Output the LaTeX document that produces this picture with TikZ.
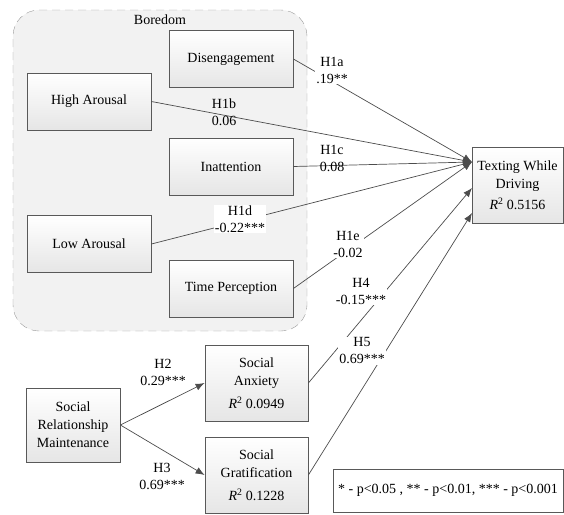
\documentclass[tikz,border=0pt]{standalone}
\usepackage{fontspec}
\setmainfont{Liberation Serif}
\usepackage{tikz}
\usetikzlibrary{arrows.meta,calc,positioning}

\begin{document}
\begin{tikzpicture}[
    x=1pt, y=-1pt,
    font=\fontsize{14}{18}\selectfont,
    construct/.style={draw=black!65, line width=0.8pt, top color=white,
                      bottom color=black!10, minimum width=124pt,
                      minimum height=57pt, align=center, inner sep=2pt},
    latent/.style={construct, minimum width=103pt, minimum height=76pt},
    group/.style={draw=black!40, dashed, dash pattern=on 8pt off 5pt,
                  fill=black!5, rounded corners=26pt},
    coef/.style={align=center, inner sep=1pt, font=\fontsize{14}{17}\selectfont},
    coefbg/.style={coef, fill=white},
    arrow/.style={-{Latex[length=9pt,width=7pt]}, line width=0.7pt, black!70}
]
\useasboundingbox (0,0) rectangle (564,514);
\node[group, minimum width=294pt, minimum height=321pt] (bored) at (160,170.5) {};
\node (boredlbl) at (160,20) {Boredom};

\node[construct] (diseng) at (231,59) {Disengagement};
\node[construct] (high) at (89,101.5) {High Arousal};
\node[construct] (inatt) at (231,166.5) {Inattention};
\node[construct] (low) at (89,244) {Low Arousal};
\node[construct] (timep) at (231,288.5) {Time Perception};
\node[latent, minimum width=91pt] (twd) at (517.5,185)
    {Texting While\\Driving\\[3pt]\textit{R}\textsuperscript{2} 0.5156};
\node[latent] (anx) at (256.5,383)
    {Social\\Anxiety\\[5pt]\textit{R}\textsuperscript{2} 0.0949};
\node[latent] (grat) at (256.5,475)
    {Social\\Gratification\\[5pt]\textit{R}\textsuperscript{2} 0.1228};
\node[latent, minimum width=94pt, minimum height=74pt] (srm) at (73,425)
    {Social\\Relationship\\Maintenance};
\node[draw=black!65, line width=0.8pt, minimum width=230pt, minimum height=43pt]
    (key) at (448,490.5) {* - p<0.05 , ** - p<0.01, *** - p<0.001};

\coordinate (tip) at (472,162);
\coordinate (tip4) at (472,188);
\coordinate (tip5) at (472,213);
\draw[arrow] (diseng.east) -- (tip);
\draw[arrow] (high.east) -- (tip);
\draw[arrow] (inatt.east) -- (tip);
\draw[arrow] (low.east) -- (tip);
\draw[arrow] (timep.east) -- (tip);
\draw[arrow] (anx.east) -- (tip4);
\draw[arrow] (grat.east) -- (tip5);
\draw[arrow] (srm.east) -- (anx.west);
\draw[arrow] (srm.east) -- (grat.west);

\node[coefbg] (l1a) at (332,70) {H1a\\.19**};
\node[coef] (l1b) at (224,112) {H1b\\0.06};
\node[coef] (l1c) at (332,158) {H1c\\0.08};
\node[coefbg] (l1d) at (240,219) {H1d\\-0.22***};
\node[coefbg] (l1e) at (348,244) {H1e\\-0.02};
\node[coefbg] (l4) at (361,291) {H4\\-0.15***};
\node[coefbg] (l5) at (362,351) {H5\\0.69***};
\node[coef] (l2) at (163,372) {H2\\0.29***};
\node[coef] (l3) at (162,476) {H3\\0.69***};
\end{tikzpicture}
\end{document}
